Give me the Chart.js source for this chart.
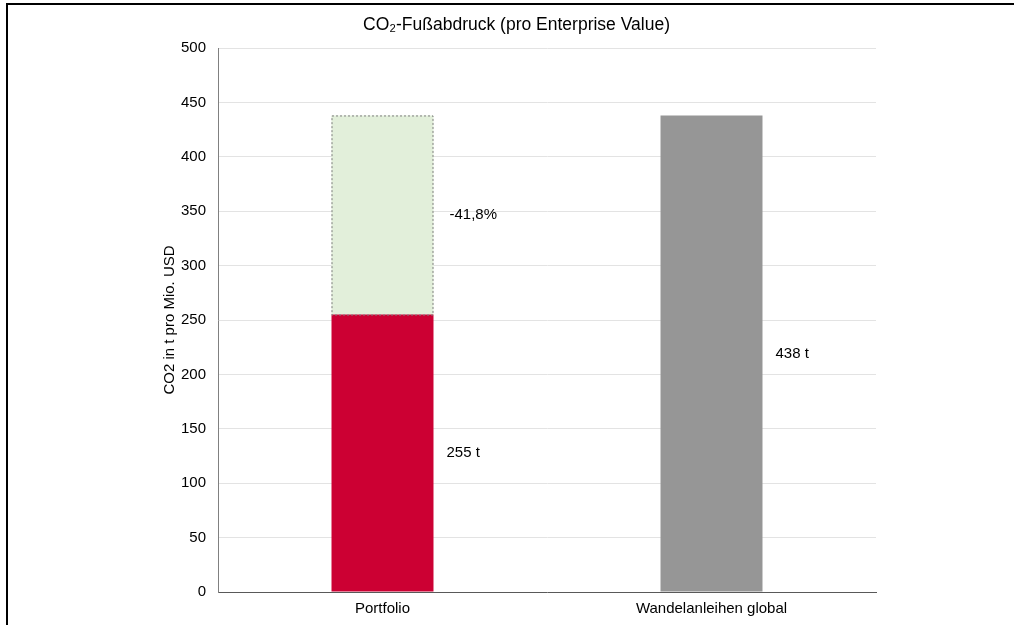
<!DOCTYPE html>
<html>
<head>
<meta charset="utf-8">
<script src="https://cdn.jsdelivr.net/npm/chart.js@4.4.0/dist/chart.umd.min.js"></script>
<style>
  html, body { margin: 0; padding: 0; background: #fff; }
  #wrap { position: relative; width: 1014px; height: 625px; }
  #frame {
    position: absolute; left: 6px; top: 3px; width: 1020px; height: 640px;
    border-top: 2px solid #000; border-left: 2px solid #000;
    pointer-events: none;
  }
</style>
</head>
<body>
<div id="wrap">
  <canvas id="chart" width="1014" height="625"></canvas>
  <div id="frame"></div>
</div>
<script>
'use strict';
var categories = ['Portfolio', 'Wandelanleihen global'];
var footprint = [255, 438];
var benchmark = 438;
var valueLabels = ['255 t', '438 t'];
var reductionLabel = '-41,8%';
var yTicks = [0, 50, 100, 150, 200, 250, 300, 350, 400, 450, 500];

// gap between portfolio and benchmark, only on the portfolio bar
var gap = footprint.map(function (v, i) { return i === 0 ? benchmark - v : null; });

var font = 'Arial, "Liberation Sans", sans-serif';

var labelPlugin = {
  id: 'barLabels',
  afterDatasetsDraw: function (chart) {
    var ctx = chart.ctx;
    var base = chart.getDatasetMeta(0).data;
    var top = chart.getDatasetMeta(1).data;
    ctx.save();

    // dashed outline round the reduction segment
    var g = top[0];
    ctx.strokeStyle = '#7f7f7f';
    ctx.lineWidth = 1;
    ctx.setLineDash([2, 2]);
    ctx.strokeRect(g.x - g.width / 2 + 0.5, g.y + 0.5, g.width - 1, g.base - g.y);
    ctx.setLineDash([]);

    ctx.fillStyle = '#000';
    ctx.font = '15px ' + font;
    ctx.textAlign = 'left';
    ctx.textBaseline = 'middle';
    base.forEach(function (bar, i) {
      ctx.fillText(valueLabels[i], bar.x + bar.width / 2 + 13, (bar.y + bar.base) / 2);
    });
    ctx.fillText(reductionLabel, g.x + g.width / 2 + 16, (g.y + g.base) / 2);
    ctx.restore();
  }
};

new Chart(document.getElementById('chart'), {
  type: 'bar',
  data: {
    labels: categories,
    datasets: [
      {
        label: 'CO2',
        data: footprint,
        backgroundColor: ['#cc0033', '#969696'],
        borderWidth: 0,
        categoryPercentage: 1,
        barPercentage: 0.31
      },
      {
        label: 'Reduktion',
        data: gap,
        backgroundColor: '#e2efda',
        borderWidth: 0,
        categoryPercentage: 1,
        barPercentage: 0.31
      }
    ]
  },
  options: {
    responsive: false,
    animation: false,
    devicePixelRatio: 1,
    layout: { padding: { left: 157, right: 138, top: 0, bottom: -1 } },
    plugins: {
      legend: { display: false },
      tooltip: { enabled: false },
      title: {
        display: true,
        text: 'CO\u2082-Fußabdruck (pro Enterprise Value)',
        color: '#000',
        font: { family: font, size: 17.5, weight: 'normal' },
        padding: { top: 15, bottom: 12 }
      }
    },
    scales: {
      x: {
        stacked: true,
        grid: { display: false, drawTicks: false },
        border: { color: '#595959', width: 1 },
        ticks: { color: '#000', font: { family: font, size: 15 }, padding: 8 }
      },
      y: {
        stacked: true,
        min: 0,
        max: 500,
        afterBuildTicks: function (scale) {
          scale.ticks = yTicks.map(function (v) { return { value: v }; });
        },
        afterFit: function (scale) { scale.width = 61; },
        grid: { color: '#e3e3e3', drawTicks: false },
        border: { color: '#808080', width: 1 },
        ticks: { color: '#000', font: { family: font, size: 15 }, padding: 12 },
        title: {
          display: true,
          text: 'CO2 in t pro Mio. USD',
          color: '#000',
          font: { family: font, size: 15 },
          padding: { top: 4, bottom: 4 }
        }
      }
    }
  },
  plugins: [labelPlugin]
});
</script>
</body>
</html>
